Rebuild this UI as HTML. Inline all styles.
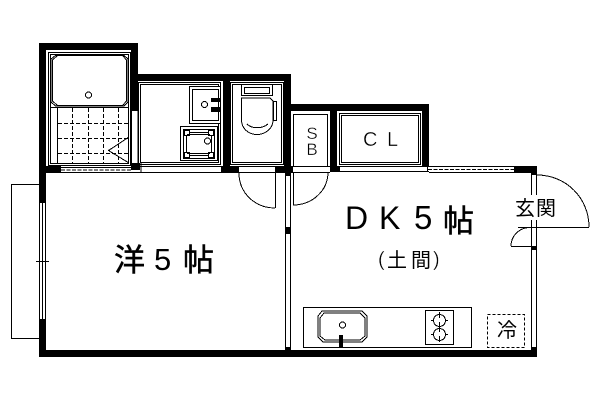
<!DOCTYPE html>
<html><head><meta charset="utf-8"><style>
html,body{margin:0;padding:0;background:#fff;width:600px;height:400px;overflow:hidden}
svg{display:block}
text{fill:#000;font-family:"Liberation Sans","Noto Sans CJK JP",sans-serif}
.thin{stroke:#fff;stroke-width:.35}
.mid{stroke:#000;stroke-width:.5}
</style></head><body>
<svg width="600" height="400" viewBox="0 0 600 400" xmlns="http://www.w3.org/2000/svg">
<g fill="#000" shape-rendering="crispEdges">
<rect x="39" y="43" width="99" height="7"/>
<rect x="39" y="43" width="7" height="160"/>
<rect x="39" y="319" width="7" height="38"/>
<rect x="39" y="350" width="498" height="7"/>
<rect x="131" y="43" width="7" height="68"/>
<rect x="46" y="166" width="15" height="7"/>
<rect x="131" y="163" width="9" height="7"/>
<rect x="138" y="74" width="153" height="7"/>
<rect x="223" y="74" width="7" height="99"/>
<rect x="221" y="166" width="18" height="7"/>
<rect x="275" y="166" width="18" height="7"/>
<rect x="284" y="74" width="7" height="37"/>
<rect x="284" y="104" width="145" height="7"/>
<rect x="284" y="111" width="7" height="55"/>
<rect x="330" y="104" width="7" height="68"/>
<rect x="330" y="166" width="10" height="6"/>
<rect x="422" y="104" width="7" height="62"/>
<rect x="514" y="166" width="23" height="7"/>
<rect x="531" y="166" width="6" height="9"/>
<rect x="531" y="246" width="6" height="4"/>
<rect x="531" y="347" width="6" height="4"/>
<rect x="285" y="173" width="6" height="3"/>
<rect x="285" y="227" width="6" height="7"/>
<rect x="285" y="347" width="6" height="4"/>
<rect x="339" y="335" width="4" height="12"/>
</g>
<g fill="none" stroke="#000" stroke-width="1" shape-rendering="crispEdges">
<path d="M39.5 203V319M42.5 203V319M45.5 203V319M36 261.5H49"/>
<path d="M39 184.5H11.5V338.5H39"/>
<rect x="48.5" y="52.5" width="82" height="113"/>
<rect x="50.5" y="54.5" width="78" height="109"/>
<path d="M50 107.5H129"/>
<path d="M57.5 108V163"/>
<path d="M57.5 55.5H122.5L126.5 60V101L122.5 105.5H57.5L52.5 101V60Z"/>
<path d="M55.5 55.5H124L128 59V102L124 106H55.5L51 102V59Z"/>
<circle cx="88.5" cy="95" r="3"/>
</g>
<g fill="none" stroke="#000" stroke-width="1" stroke-dasharray="4 2" shape-rendering="crispEdges">
<path d="M72.5 108V163M88.5 108V163M103.5 108V163M118.5 108V163"/>
<path d="M58 123.5H129M58 138.5H129M58 153.5H129"/>
</g>
<g fill="none" stroke="#000" stroke-width="1" shape-rendering="crispEdges">
<path d="M129 137L108.5 150.5L129 163"/>
<path d="M131.5 111V163M138 111V163"/>
<path d="M61 167.5H131M61 172.5H140M140 166.5H221M140 172.5H221M141 163V172"/>
<path d="M239 166.5H275M239 172.5H275"/>
<path d="M293 166.5H330M285 172.5H330M340 166.5H429M340 171.5H429M427.5 166V172M429 172.5H514M429 166.5H514"/>
<path d="M428 169.5H514M61 170H131" stroke-dasharray="4 1.5"/>
<rect x="138.5" y="82.5" width="82" height="82"/>
<rect x="140.5" y="84.5" width="78" height="78"/>
<rect x="189.5" y="86.5" width="31" height="37" fill="#fff"/>
<rect x="192.5" y="89.5" width="26" height="31"/>
<rect x="180.5" y="126.5" width="37" height="34" fill="#fff"/>
<rect x="183.5" y="129.5" width="31" height="29"/>
<rect x="184.5" y="130.5" width="5" height="5"/>
<rect x="208.5" y="130.5" width="5" height="5"/>
<rect x="184.5" y="152.5" width="5" height="5"/>
<rect x="208.5" y="152.5" width="5" height="5"/>
<path d="M186.5 136V152M189 132.5H208M189 155.5H208M211.5 136V152M187 134.5H210M187 153.5H210"/>
<rect x="230.5" y="82.5" width="53" height="82"/>
<rect x="232.5" y="84.5" width="49" height="78"/>
<rect x="241.5" y="84.5" width="31" height="11"/>
<rect x="244.5" y="87.5" width="25" height="6"/>
<rect x="273.5" y="101.5" width="3" height="19"/>
<rect x="293.5" y="114.5" width="34" height="52"/>
<rect x="339.5" y="113.5" width="81" height="51"/>
<rect x="341.5" y="115.5" width="77" height="47"/>
<path d="M285.5 173V350M290.5 173V350"/>
<path d="M531.5 175V195M536.5 175V195M531.5 220V350M536.5 220V350"/>
<path d="M303.5 347V307.5H471.5V347M303 347.5H472"/>
<rect x="425.5" y="310.5" width="28" height="34"/>
<rect x="487.5" y="314.5" width="37" height="33" stroke-dasharray="3 2"/>
<path d="M439.5 312V318M439.5 322V332M439.5 336V342M431 320.5H434M445 320.5H448M431 334.5H434M445 334.5H448"/>
<path d="M275.5 172V208M293.5 172V205M518 227.5H589M511 246.5H531"/>
<circle cx="204.5" cy="104.5" r="3"/>
<circle cx="207.5" cy="141" r="3"/>
<path d="M241.5 98H270L273 101V120C273 128 266 134.5 257 134.5C248 134.5 241.5 128 241.5 120Z"/>
<path d="M247 124C252 129 262 129 268 124"/>
<path d="M239 173C239 193 255 208 275 208"/>
<path d="M328 172C328 191 312 205 293 205"/>
<path d="M537 175C566 175 589 198 589 227"/>
<path d="M530 227.5C519 227.5 511 236 511 246"/>
<path d="M322 311H362L367 316V337L362 342H323L318 337V316Z"/>
<path d="M324 313H360L365 318V336L360 340H325L320 336V318Z"/>
<circle cx="342.5" cy="325" r="3"/>
<circle cx="439.5" cy="320.5" r="6"/>
<circle cx="439.5" cy="334.5" r="6"/>
</g>
<g fill="#000" shape-rendering="crispEdges">
<rect x="211" y="98" width="9" height="4"/>
<rect x="211" y="107" width="9" height="5"/>
</g>
<rect x="528" y="195" width="12" height="25" fill="#fff"/>
<text class="thin" x="312" y="139" font-size="17" text-anchor="middle">S</text>
<text class="thin" x="312" y="155" font-size="17" text-anchor="middle">B</text>
<text class="thin" x="363" y="146" font-size="20">C</text>
<text class="thin" x="387" y="146" font-size="20">L</text>
<text class="mid" x="114" y="271" font-size="31">洋</text>
<text x="154" y="270" font-size="31">5</text>
<text class="mid" x="183" y="271" font-size="31">帖</text>
<text x="345" y="229" font-size="32">D</text>
<text x="379" y="229" font-size="32">K</text>
<text x="414" y="229" font-size="33">5</text>
<text class="mid" x="443" y="232" font-size="31">帖</text>
<text class="thin" x="378" y="266" font-size="20">(</text>
<text x="387" y="267" font-size="20">土</text>
<text x="411" y="267" font-size="20">間</text>
<text class="thin" x="433" y="266" font-size="20">)</text>
<text x="515" y="215" font-size="20">玄</text>
<text x="536" y="215" font-size="20">関</text>
<text x="497" y="337" font-size="20">冷</text>
</svg>
</body></html>
